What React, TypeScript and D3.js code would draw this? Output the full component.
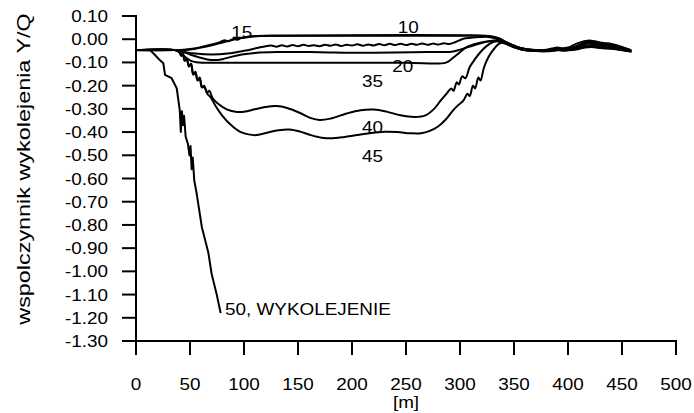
import React, { useRef, useEffect } from 'react';
import * as d3 from 'd3';

type Pt = [number, number]; // [distance m, Y/Q]

// ─── data ──────────────────────────────────────────────────────────────────────
const xTicks = [0, 50, 100, 150, 200, 250, 300, 350, 400, 450, 500];
const yTicks = [0.1, 0, -0.1, -0.2, -0.3, -0.4, -0.5, -0.6, -0.7, -0.8, -0.9, -1.0, -1.1, -1.2, -1.3];

const run10: Pt[] = [
    [0, -0.047], [38, -0.047], [46, -0.046], [55, -0.041], [64, -0.033], [72, -0.024], [80, -0.014],
    [88, -0.005], [96, 0.004], [105, 0.01], [115, 0.014], [130, 0.015], [200, 0.015], [280, 0.015],
    [322, 0.015], [330, 0.012], [336, 0.004], [342, -0.01], [348, -0.024], [354, -0.035], [360, -0.042],
    [366, -0.045], [372, -0.046], [380, -0.045], [385, -0.04], [390, -0.036], [395, -0.039], [400, -0.036],
    [405, -0.026], [410, -0.016], [415, -0.009], [420, -0.006], [425, -0.009], [430, -0.014], [435, -0.017],
    [440, -0.02], [445, -0.026], [450, -0.034], [455, -0.042], [458, -0.046],
];

const run15: Pt[] = [
    [0, -0.047], [36, -0.047], [44, -0.045], [52, -0.041], [60, -0.034], [68, -0.025], [75, -0.017],
    [79, -0.01], [82, -0.004], [85, -0.009], [88, -0.003], [91, 0.002], [94, -0.002], [97, 0.005],
    [103, 0.011], [112, 0.014], [125, 0.015], [320, 0.015], [328, 0.011], [334, 0.004], [340, -0.008],
    [346, -0.02], [352, -0.032], [358, -0.04], [364, -0.044], [370, -0.046], [378, -0.047], [384, -0.044],
    [390, -0.04], [396, -0.043], [402, -0.04], [408, -0.03], [414, -0.018], [418, -0.012], [423, -0.014],
    [428, -0.018], [434, -0.022], [440, -0.025], [446, -0.03], [452, -0.038], [457, -0.045],
];

const run20: Pt[] = [
    [0, -0.047], [36, -0.047], [42, -0.052], [50, -0.066], [58, -0.078], [66, -0.087], [72, -0.09],
    [80, -0.086], [88, -0.076], [98, -0.066], [110, -0.059], [130, -0.055], [170, -0.056], [200, -0.058],
    [240, -0.057], [270, -0.055], [292, -0.054], [300, -0.045], [310, -0.03], [320, -0.016], [328, -0.008],
    [334, -0.004], [340, -0.012], [346, -0.025], [352, -0.036], [358, -0.044], [364, -0.048], [372, -0.05],
    [380, -0.05], [388, -0.046], [394, -0.048], [400, -0.046], [408, -0.04], [415, -0.03], [420, -0.026],
    [426, -0.03], [432, -0.034], [440, -0.036], [448, -0.042], [456, -0.05],
];

const run30: Pt[] = [
    [0, -0.047], [36, -0.047], [44, -0.054], [55, -0.062], [70, -0.066], [85, -0.062], [100, -0.05],
    [112, -0.038], [120, -0.03], [125, -0.027], [130, -0.032], [135, -0.026], [140, -0.031], [145, -0.025],
    [150, -0.03], [155, -0.024], [160, -0.029], [165, -0.026], [170, -0.03], [175, -0.024], [180, -0.028],
    [185, -0.023], [190, -0.029], [195, -0.024], [200, -0.027], [205, -0.022], [210, -0.028], [215, -0.023],
    [220, -0.027], [225, -0.021], [230, -0.026], [235, -0.02], [240, -0.025], [245, -0.019], [250, -0.025],
    [255, -0.02], [260, -0.024], [265, -0.018], [270, -0.024], [275, -0.019], [280, -0.023], [285, -0.017],
    [290, -0.021], [296, -0.012], [303, 0.002], [310, 0.006], [318, 0.009], [326, 0.01], [333, 0.004],
    [339, -0.006], [345, -0.018], [351, -0.03], [357, -0.039], [363, -0.044], [370, -0.047], [378, -0.048],
    [384, -0.045], [389, -0.042], [394, -0.045], [400, -0.042], [406, -0.034], [411, -0.024], [416, -0.016],
    [421, -0.014], [426, -0.019], [431, -0.022], [437, -0.024], [443, -0.029], [449, -0.036], [455, -0.044],
    [459, -0.05],
];

const run35: Pt[] = [
    [0, -0.047], [36, -0.047], [41, -0.058], [46, -0.078], [51, -0.093], [56, -0.099], [62, -0.101],
    [150, -0.101], [250, -0.101], [287, -0.101], [293, -0.082], [299, -0.06], [306, -0.034], [314, -0.02],
    [322, -0.012], [328, -0.009], [334, -0.009], [340, -0.016], [346, -0.027], [352, -0.037], [358, -0.045],
    [364, -0.049], [372, -0.051], [380, -0.052], [386, -0.05], [392, -0.047], [398, -0.049], [404, -0.047],
    [410, -0.042], [416, -0.036], [422, -0.034], [428, -0.037], [434, -0.04], [440, -0.041], [446, -0.044],
    [452, -0.048], [458, -0.053],
];

const run40: Pt[] = [
    [0, -0.047], [36, -0.047], [40, -0.055], [42, -0.07], [43.5, -0.062], [45, -0.09], [47, -0.085],
    [49, -0.115], [51, -0.105], [53, -0.15], [55, -0.14], [57, -0.175], [59, -0.165], [61, -0.205],
    [63, -0.2], [66, -0.23], [68, -0.222], [71, -0.255], [76, -0.278], [84, -0.302], [92, -0.312],
    [100, -0.312], [110, -0.302], [120, -0.292], [130, -0.288], [140, -0.296], [152, -0.318], [162, -0.34],
    [170, -0.348], [180, -0.342], [195, -0.32], [208, -0.306], [220, -0.303], [232, -0.312], [245, -0.328],
    [258, -0.335], [268, -0.328], [276, -0.3], [282, -0.265], [288, -0.232], [292, -0.212], [294, -0.222],
    [297, -0.185], [299, -0.195], [302, -0.16], [305, -0.168], [309, -0.12], [314, -0.085], [319, -0.055],
    [324, -0.032], [329, -0.016], [334, -0.008], [340, -0.013], [346, -0.026], [352, -0.037], [358, -0.044],
    [365, -0.048], [372, -0.05], [380, -0.049], [388, -0.044], [394, -0.046], [400, -0.043], [408, -0.035],
    [414, -0.024], [419, -0.019], [424, -0.022], [430, -0.026], [436, -0.028], [442, -0.033], [448, -0.039],
    [454, -0.046], [458, -0.05],
];

const run45: Pt[] = [
    [0, -0.047], [36, -0.047], [40, -0.056], [42, -0.072], [43.5, -0.064], [45, -0.093], [47, -0.088],
    [49, -0.118], [51, -0.108], [53, -0.153], [55, -0.144], [57, -0.178], [59, -0.17], [61, -0.208],
    [63, -0.205], [66, -0.235], [69, -0.25], [74, -0.29], [80, -0.33], [88, -0.37], [96, -0.398],
    [104, -0.41], [112, -0.413], [122, -0.402], [132, -0.392], [142, -0.389], [152, -0.398], [162, -0.413],
    [172, -0.424], [180, -0.427], [192, -0.422], [205, -0.413], [218, -0.404], [230, -0.399], [242, -0.4],
    [254, -0.405], [264, -0.405], [272, -0.395], [280, -0.375], [287, -0.345], [293, -0.31], [298, -0.285],
    [303, -0.265], [307, -0.235], [309, -0.245], [312, -0.2], [314, -0.212], [317, -0.165], [319, -0.178],
    [322, -0.125], [326, -0.08], [331, -0.045], [336, -0.02], [341, -0.014], [347, -0.028], [353, -0.039],
    [359, -0.046], [366, -0.05], [374, -0.052], [382, -0.051], [390, -0.047], [396, -0.049], [402, -0.046],
    [410, -0.04], [417, -0.033], [422, -0.031], [428, -0.035], [434, -0.038], [441, -0.04], [448, -0.045],
    [455, -0.051], [459, -0.054],
];

const run50: Pt[] = [
    [0, -0.047], [13, -0.047], [17.6, -0.068], [22, -0.09], [25.3, -0.104], [26.9, -0.154], [33, -0.168],
    [37.7, -0.211], [40.5, -0.305], [41.5, -0.4], [42.5, -0.31], [43.5, -0.37], [44.5, -0.33], [46, -0.42],
    [48, -0.45], [49.5, -0.5], [50.5, -0.46], [51.5, -0.56], [52.5, -0.51], [54, -0.61], [56, -0.66],
    [58, -0.72], [61, -0.81], [67, -0.92], [70, -1.01], [74.5, -1.095], [78.4, -1.18],
];

// label anchors in data units (distance, Y/Q)
const curveLabels: { text: string; at: Pt; anchor: string }[] = [
    { text: '10', at: [252, 0.027], anchor: 'middle' },
    { text: '15', at: [98, 0.004], anchor: 'middle' },
    { text: '20', at: [247, -0.141], anchor: 'middle' },
    { text: '35', at: [219, -0.206], anchor: 'middle' },
    { text: '40', at: [219, -0.404], anchor: 'middle' },
    { text: '45', at: [219, -0.529], anchor: 'middle' },
    { text: '50, WYKOLEJENIE', at: [82.5, -1.188], anchor: 'start' },
];

const W = 694;
const H = 413;
const FONT = '"Liberation Sans", Arial, Helvetica, sans-serif';
const SX = 1.18; // the source text is set noticeably wide

const App: React.FC = () => {
    const ref = useRef<SVGSVGElement | null>(null);

    useEffect(() => {
        if (!ref.current) return;
        const svg = d3.select(ref.current);
        svg.selectAll('*').remove();

        const x = d3.scaleLinear().domain([0, 500]).range([136, 676]);
        const y = d3.scaleLinear().domain([-1.3, 0.1]).range([341, 16]);

        const text = (
            t: string, tx: number, ty: number, anchor: string,
            size = 16, sx = SX, extra = ''
        ) =>
            svg.append('text')
                .attr('transform', `translate(${tx},${ty}) ${extra} scale(${sx},1)`)
                .attr('text-anchor', anchor)
                .style('font-family', FONT)
                .style('font-size', `${size}px`)
                .attr('fill', '#000')
                .text(t);

        // ─── curves ──────────────────────────────────────────────────────────────
        const smooth = d3.line<Pt>()
            .x(d => x(d[0]))
            .y(d => y(d[1]))
            .curve(d3.curveCatmullRom.alpha(0.5));
        const straight = d3.line<Pt>()
            .x(d => x(d[0]))
            .y(d => y(d[1]));

        const runs = [run10, run15, run20, run30, run35, run40, run45];
        svg.append('g')
            .selectAll('path')
            .data(runs)
            .enter()
            .append('path')
            .attr('d', d => smooth(d) as string)
            .attr('fill', 'none')
            .attr('stroke', '#000')
            .attr('stroke-width', 2)
            .attr('stroke-linejoin', 'round');

        svg.append('path')
            .attr('d', straight(run50) as string)
            .attr('fill', 'none')
            .attr('stroke', '#000')
            .attr('stroke-width', 2)
            .attr('stroke-linejoin', 'round');

        // ─── axes ────────────────────────────────────────────────────────────────
        const axis = svg.append('g').attr('stroke', '#000').attr('stroke-width', 2);
        axis.append('line')
            .attr('x1', x(0)).attr('x2', x(0))
            .attr('y1', y(0.1) - 1).attr('y2', y(-1.3) + 1);
        axis.append('line')
            .attr('x1', x(0) - 1).attr('x2', x(500) + 1)
            .attr('y1', y(-1.3)).attr('y2', y(-1.3));

        yTicks.forEach(t => {
            axis.append('line')
                .attr('x1', x(0) - 14).attr('x2', x(0))
                .attr('y1', y(t)).attr('y2', y(t));
            text(t.toFixed(2), x(0) - 28, y(t) + 6, 'end');
        });
        xTicks.forEach(t => {
            axis.append('line')
                .attr('x1', x(t)).attr('x2', x(t))
                .attr('y1', y(-1.3)).attr('y2', y(-1.3) + 14);
            text(String(t), x(t), 390, 'middle');
        });

        text('[m]', (x(0) + x(500)) / 2, 408, 'middle');
        text('wspolczynnik wykolejenia Y/Q', 24, 169, 'middle', 18, 1.3, 'rotate(-90)')
            .attr('dominant-baseline', 'central');

        // ─── curve labels ────────────────────────────────────────────────────────
        curveLabels.forEach(l => {
            text(l.text, x(l.at[0]), y(l.at[1]), l.anchor);
        });
    }, []);

    return (
        <svg
            ref={ref}
            width={W}
            height={H}
            style={{ position: 'absolute', left: 0, top: 0, background: '#fff' }}
        />
    );
};

export default App;
